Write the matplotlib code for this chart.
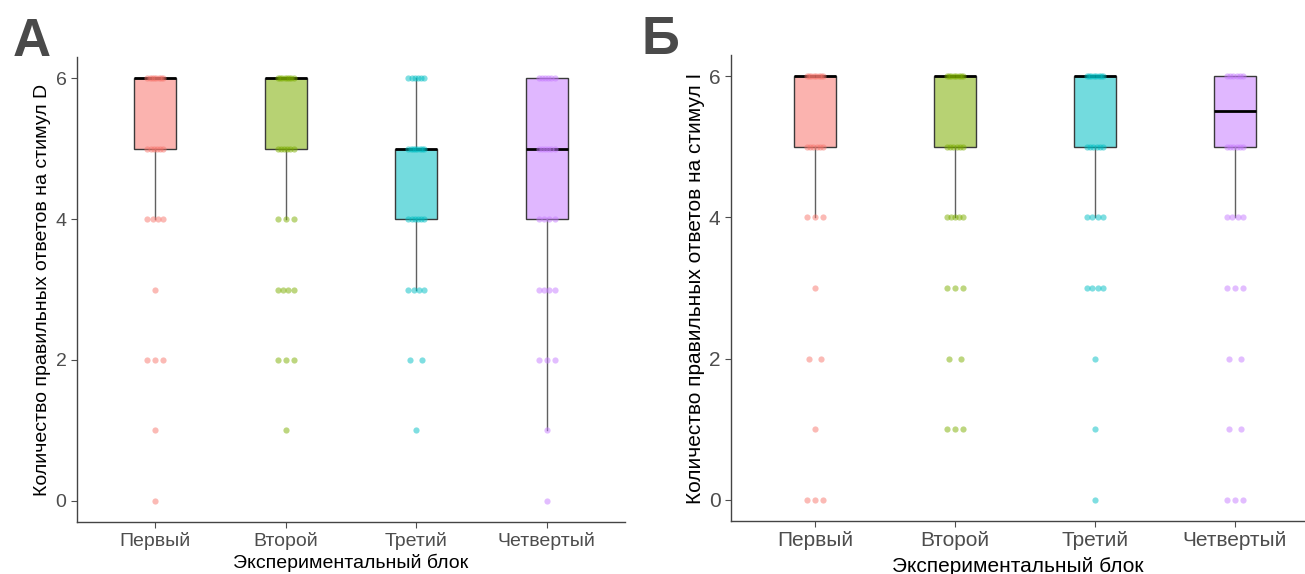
import numpy as np
import matplotlib
matplotlib.use('Agg')
import matplotlib.pyplot as plt

plt.rcParams['font.family'] = ['Liberation Sans', 'DejaVu Sans']

# --- data ---
blocks = ['Первый', 'Второй', 'Третий', 'Четвертый']
colors = ['#F8766D', '#7CAE00', '#00BFC4', '#C77CFF']
levels = [0, 1, 2, 3, 4, 5, 6]

# box statistics (whislo, q1, med, q3, whishi)
a_whislo = [4, 4, 3, 1]
a_q1 = [5, 5, 4, 4]
a_med = [6, 6, 5, 5]
a_q3 = [6, 6, 5, 6]
a_whishi = [6, 6, 6, 6]

b_whislo = [4, 4, 4, 4]
b_q1 = [5, 5, 5, 5]
b_med = [6, 6, 6, 5.5]
b_q3 = [6, 6, 6, 6]
b_whishi = [6, 6, 6, 6]

# number of observations at each level 0..6 (per block)
a_counts = [
    [1, 1, 3, 1, 4, 6, 8],
    [0, 1, 3, 4, 3, 6, 8],
    [0, 1, 2, 4, 6, 8, 6],
    [1, 1, 3, 4, 4, 6, 6],
]
b_counts = [
    [3, 1, 2, 1, 3, 6, 8],
    [0, 3, 2, 3, 5, 6, 8],
    [1, 1, 1, 4, 4, 6, 8],
    [3, 2, 2, 3, 4, 6, 6],
]

ylab_a = 'Количество правильных ответов на стимул D'
ylab_b = 'Количество правильных ответов на стимул I'
xlab = 'Экспериментальный блок'


def spread(n):
    if n == 1:
        return np.array([0.0])
    if n == 2:
        return np.array([-0.045, 0.045])
    return np.linspace(-0.06, 0.06, n)


def panel(ax, whislo, q1, med, q3, whishi, counts, ylabel, width, xmax, fs, xpad):
    stats = []
    for i in range(len(blocks)):
        stats.append(dict(whislo=whislo[i], q1=q1[i], med=med[i], q3=q3[i],
                          whishi=whishi[i], fliers=[]))
    bp = ax.bxp(stats, positions=range(len(blocks)), widths=width,
                patch_artist=True, showcaps=False, showfliers=False,
                boxprops=dict(edgecolor='#3a3a3a', linewidth=1.0),
                whiskerprops=dict(color='#606060', linewidth=1.0),
                medianprops=dict(color='black', linewidth=2.0))
    for patch, c in zip(bp['boxes'], colors):
        patch.set_facecolor(matplotlib.colors.to_rgba(c, 0.55))

    for i, cnt in enumerate(counts):
        for lv, n in zip(levels, cnt):
            if n == 0:
                continue
            xs = i + spread(n)
            ax.scatter(xs, [lv] * n, s=20, color=colors[i], alpha=0.5,
                       linewidths=0, zorder=5)

    ax.set_xlim(-0.6, xmax)
    ax.set_ylim(-0.3, 6.3)
    ax.set_yticks([0, 2, 4, 6])
    ax.set_xticks(range(len(blocks)))
    ax.set_xticklabels(blocks)
    ax.tick_params(colors='#4d4d4d', labelsize=fs, length=4, width=0.8)
    for s in ['top', 'right']:
        ax.spines[s].set_visible(False)
    for s in ['left', 'bottom']:
        ax.spines[s].set_color('#444444')
        ax.spines[s].set_linewidth(1.0)
    ax.set_ylabel(ylabel, fontsize=fs, color='black', labelpad=3)
    ax.set_xlabel(xlab, fontsize=fs, color='black', labelpad=xpad)


fig = plt.figure(figsize=(13.05, 5.74), dpi=100)
ax1 = fig.add_axes([77 / 1305, 52 / 574, 548 / 1305, 465 / 574])
ax2 = fig.add_axes([731 / 1305, 53 / 574, 574 / 1305, 466 / 574])

panel(ax1, a_whislo, a_q1, a_med, a_q3, a_whishi, a_counts, ylab_a, 0.32, 3.6, 14, 2)
panel(ax2, b_whislo, b_q1, b_med, b_q3, b_whishi, b_counts, ylab_b, 0.30, 3.5, 15, 5)

fig.text(32 / 1305, 1 - 42 / 574, 'А', fontsize=38, fontweight='bold',
         color='#4a4a4a', ha='center', va='center')
fig.text(660 / 1305, 1 - 40 / 574, 'Б', fontsize=38, fontweight='bold',
         color='#4a4a4a', ha='center', va='center')

fig.savefig('out.png', dpi=100)
